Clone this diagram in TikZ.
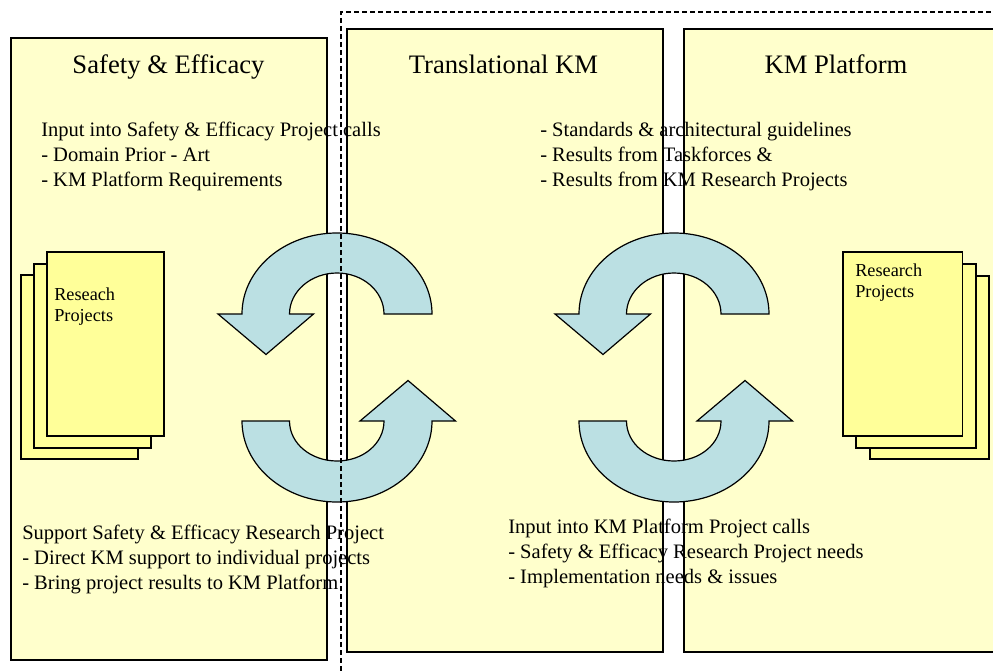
\documentclass[tikz,border=0pt]{standalone}
\usepackage{fontspec}
\setmainfont{Liberation Serif}
\definecolor{panelfill}{HTML}{FFFFCC}
\definecolor{pagefill}{HTML}{FFFF99}
\definecolor{arrowfill}{HTML}{BBE0E3}
\tikzset{
  x=0.75pt,y=-0.75pt,
  panel/.style={draw=black,fill=panelfill,line width=1pt},
  page/.style={draw=black,fill=pagefill,line width=0.9pt},
  cyc/.style={draw=black,fill=arrowfill,line width=0.9pt,line join=miter},
  title/.style={anchor=base,font=\fontsize{20}{22}\selectfont,inner sep=0pt},
  body/.style={anchor=base west,font=\fontsize{15.4}{17}\selectfont,inner sep=0pt},
  small/.style={anchor=base west,font=\fontsize{13.7}{15}\selectfont,inner sep=0pt},
}
\newcommand{\downcyc}[1]{%
  \begin{scope}[xshift=#1*0.75pt]
  \draw[cyc] (242,314) .. controls (242,269.3) and (284.5,233) .. (337,233)
     .. controls (389.5,233) and (432,269.3) .. (432,314) -- (384,314)
     .. controls (384,291.4) and (363,273) .. (337,273)
     .. controls (311,273) and (289.5,291.4) .. (289.5,314) -- (313.5,314)
     -- (266,354.5) -- (218,314) -- cycle;
  \end{scope}}
\newcommand{\upcyc}[1]{%
  \begin{scope}[xshift=#1*0.75pt]
  \draw[cyc] (242,421) .. controls (242,465.7) and (284.5,502) .. (337,502)
     .. controls (389.5,502) and (432,465.7) .. (432,421) -- (455.5,421)
     -- (408,380.5) -- (360,421) -- (384,421)
     .. controls (384,443.6) and (363,461) .. (337,461)
     .. controls (311,461) and (289.5,443.6) .. (289.5,421) -- cycle;
  \end{scope}}
\begin{document}
\begin{tikzpicture}
\useasboundingbox (0,0) rectangle (993,671);
\fill[white] (0,0) rectangle (993,671);
% panels
\path[panel] (11,38) rectangle (327,660);
\path[panel] (347,29) rectangle (663,652);
\path[panel] (684,29) rectangle (1000,652);
% pages
\path[page] (21,275) rectangle (138,459);
\path[page] (34,264) rectangle (151,448);
\path[page] (47,252) rectangle (164,436);
\path[page] (870,276) rectangle (989,459);
\path[page] (856,264) rectangle (976,448);
\path[page] (843,252) rectangle (962.5,436);
% arrows
\downcyc{0}\upcyc{0}\downcyc{337}\upcyc{337}
% dashed region
\draw[line width=1pt,dash pattern=on 3.75pt off 2.25pt] (341,671) -- (341,12) -- (1000,12);
% titles
\node[title] (t1) at (168.5,73) {Safety \& Efficacy};
\node[title] (t2) at (503.5,73) {Translational KM};
\node[title] (t3) at (836,73) {KM Platform};
% text
\node[body] (a1) at (41,136.5) {Input into Safety \& Efficacy Project calls};
\node[body] (a2) at (41,161.5) {- Domain Prior - Art};
\node[body] (a3) at (41,186.5) {- KM Platform Requirements};
\node[body] (b1) at (540,136.5) {- Standards \& architectural guidelines};
\node[body] (b2) at (540,161.5) {- Results from Taskforces \&};
\node[body] (b3) at (540,186.5) {- Results from KM Research Projects};
\node[body] (c1) at (22,539) {Support Safety \& Efficacy Research Project};
\node[body] (c2) at (22,564) {- Direct KM support to individual projects};
\node[body] (c3) at (22,589) {- Bring project results to KM Platform};
\node[body] (d1) at (508,533.5) {Input into KM Platform Project calls};
\node[body] (d2) at (508,558.5) {- Safety \& Efficacy Research Project needs};
\node[body] (d3) at (508,583) {- Implementation needs \& issues};
\node[small] (p1) at (54,300) {Reseach};
\node[small] (p2) at (54,321) {Projects};
\node[small] (q1) at (855,276) {Research};
\node[small] (q2) at (855,297) {Projects};
\end{tikzpicture}
\end{document}
